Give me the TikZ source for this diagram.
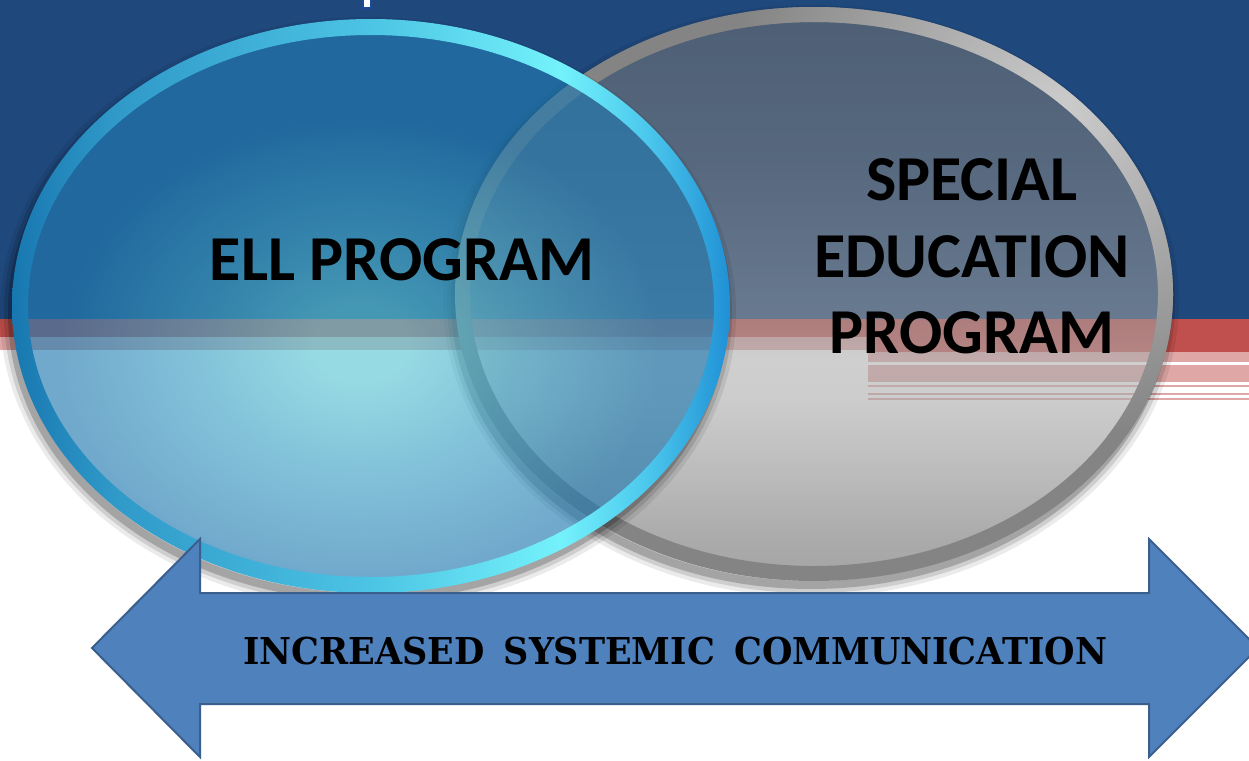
\documentclass[tikz,border=0pt]{standalone}
\usepackage{fontspec}
\setmainfont{Carlito}
\newfontfamily\slabfont{DejaVu Serif}
\usetikzlibrary{calc}

% palette
\definecolor{slideblue}{HTML}{1F497D}
\definecolor{bandred}{HTML}{C0504D}
\definecolor{bandpink}{HTML}{DFA8A7}
\definecolor{fragblue}{HTML}{1A4A9A}
\definecolor{arrowblue}{HTML}{4F81BD}
\definecolor{arrowedge}{HTML}{3A5F8D}
\definecolor{ringgray}{HTML}{848484}
\definecolor{ringlight}{HTML}{CCCCCC}
\definecolor{ellin}{HTML}{5CC6D4}
\definecolor{ellmid}{HTML}{3FA3C6}
\definecolor{ellout}{HTML}{217AB0}
\definecolor{ringA}{HTML}{1877B0}
\definecolor{ringB}{HTML}{2F98C8}
\definecolor{ringC}{HTML}{4CC4E4}
\definecolor{ringD}{HTML}{74F2FB}
\definecolor{ringE}{HTML}{4AC6EC}
\definecolor{ringF}{HTML}{2090D5}

% glow inside the ELL oval
\pgfdeclareradialshading{ellglow}{\pgfpoint{0bp}{0bp}}{%
  color(0bp)=(ellin); color(2bp)=(ellin); color(6.5bp)=(ellmid);
  color(12.5bp)=(ellout); color(25bp)=(ellout); color(50bp)=(ellout)}
% cyan rim of the ELL oval
\pgfdeclarehorizontalshading{ellring}{100bp}{%
  color(0bp)=(ringA); color(25bp)=(ringA); color(31.8bp)=(ringB);
  color(50bp)=(ringC); color(63.2bp)=(ringD); color(69.4bp)=(ringE);
  color(75bp)=(ringF); color(100bp)=(ringF)}
% translucent grey body of the special-education oval
\pgfdeclareverticalshading{grayfill}{100bp}{%
  rgb(0bp)=(.40,.40,.40); rgb(25bp)=(.40,.40,.40); rgb(28bp)=(.43,.43,.43);
  rgb(33bp)=(.53,.53,.53); rgb(40.5bp)=(.66,.66,.66); rgb(44bp)=(.68,.68,.68);
  rgb(48bp)=(.62,.62,.62); rgb(55bp)=(.56,.56,.56); rgb(62bp)=(.50,.50,.50);
  rgb(75bp)=(.44,.44,.44); rgb(100bp)=(.44,.44,.44)}

\tikzset{
  labeltext/.style={font=\fontsize{64}{64}\selectfont\bfseries, text=black, inner sep=0pt},
  commtext/.style={font=\slabfont\bfseries\fontsize{37}{37}\selectfont, text=black, inner sep=0pt, xscale=0.946},
  arrowbody/.style={fill=arrowblue, draw=arrowedge, line width=2pt, line join=miter},
}

\begin{document}
\begin{tikzpicture}[x=1pt,y=-1pt]
\useasboundingbox (0,0) rectangle (1249,760);

% slide background: blue header, red rule, pink lines
\fill[white] (0,0) rectangle (1249,760);
\fill[slideblue] (0,0) rectangle (1249,319);
\fill[bandred] (0,319) rectangle (1249,337);
\fill[bandred] (868,337) rectangle (1249,352);
\fill[bandpink] (0,337) rectangle (868,350);
\fill[bandpink] (868,352) rectangle (1249,362);
\fill[bandpink] (868,365) rectangle (1249,382);
\foreach \t in {385,392.5,397.5}
  \fill[bandpink] (868,\t) rectangle (1249,\t+2);

% tail of the cut-off heading
\filldraw[fill=white, draw=fragblue, line width=1.5pt] (363,-3) rectangle (371,8);

\coordinate (ellc) at (371,306);
\coordinate (spc) at (814,294);

% special-education oval: shadow, body, rim
\begin{scope}[even odd rule]
  \clip (-20,-20) rectangle (1270,780) (spc) ellipse [x radius=358pt, y radius=286pt];
  \foreach \w/\o in {24/0.08,16/0.12,8/0.2}
    \draw[black, opacity=\o, line width=\w pt] ([shift={(-3,7)}]spc) ellipse [x radius=356pt, y radius=284pt];
\end{scope}
\shade[shading=grayfill, fill opacity=0.58] (spc) ellipse [x radius=352pt, y radius=280pt];
\begin{scope}[even odd rule]
  \clip (spc) ellipse [x radius=359pt, y radius=287pt] (spc) ellipse [x radius=344pt, y radius=272pt];
  \fill[ringgray] (450,0) rectangle (1180,590);
  \shade[inner color=ringlight, outer color=ringgray] (1060,110) circle (330pt);
\end{scope}

% ELL oval: shadow, body, rim
\begin{scope}[even odd rule]
  \clip (-20,-20) rectangle (1270,780) (ellc) ellipse [x radius=358pt, y radius=286pt];
  \foreach \w/\o in {24/0.08,16/0.12,8/0.2}
    \draw[black, opacity=\o, line width=\w pt] ([shift={(-3,7)}]ellc) ellipse [x radius=356pt, y radius=284pt];
\end{scope}
\begin{scope}
  \clip (ellc) ellipse [x radius=352pt, y radius=279pt];
  \shade[shading=ellglow, fill opacity=0.64] (360,345) ellipse [x radius=600pt, y radius=460pt];
\end{scope}
\begin{scope}[even odd rule]
  \clip (ellc) ellipse [x radius=359pt, y radius=287pt] (ellc) ellipse [x radius=343pt, y radius=271pt];
  \shade[shading=ellring] (12,19) rectangle (730,593);
\end{scope}

% oval labels
\node[labeltext, anchor=base] (ell) at (402,280) {ELL PROGRAM};
\node[labeltext, anchor=base] (sp1) at (972,200) {SPECIAL};
\node[labeltext, anchor=base] (sp2) at (972,277) {EDUCATION};
\node[labeltext, anchor=base] (sp3) at (972,353) {PROGRAM};

% two-headed arrow with its caption
\filldraw[arrowbody] (92,648) -- (200,539) -- (200,593) -- (1149,593) -- (1149,539)
  -- (1258,648) -- (1149,757) -- (1149,704) -- (200,704) -- (200,757) -- cycle;
\node[commtext, anchor=base] (comm) at (675,664)
  {INCREASED\hspace{0.55em}SYSTEMIC\hspace{0.55em}COMMUNICATION};
\end{tikzpicture}
\end{document}
